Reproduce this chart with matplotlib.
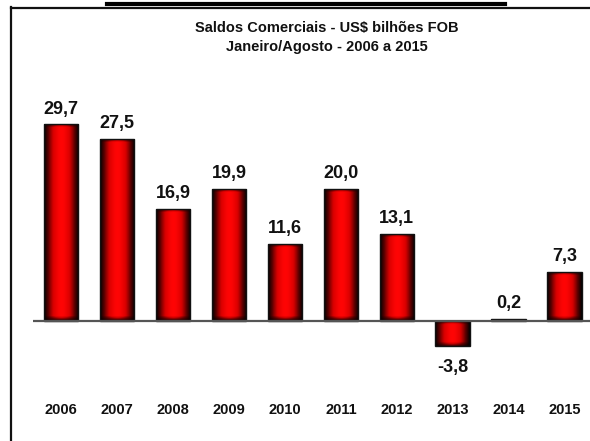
import numpy as np
import matplotlib
matplotlib.use('Agg')
import matplotlib.pyplot as plt
from matplotlib.colors import LinearSegmentedColormap
from matplotlib.lines import Line2D
from matplotlib.patches import Rectangle
from matplotlib.transforms import blended_transform_factory

years = ['2006', '2007', '2008', '2009', '2010',
         '2011', '2012', '2013', '2014', '2015']
saldos = [29.7, 27.5, 16.9, 19.9, 11.6, 20.0, 13.1, -3.8, 0.2, 7.3]
value_labels = ['29,7', '27,5', '16,9', '19,9', '11,6',
                '20,0', '13,1', '-3,8', '0,2', '7,3']
title_lines = ['Saldos Comerciais - US$ bilhões FOB',
               'Janeiro/Agosto - 2006 a 2015']

FONT = ['Liberation Sans Narrow', 'Liberation Sans', 'DejaVu Sans']
W, H = 590, 441

fig = plt.figure(figsize=(W / 100, H / 100), dpi=100)
fig.patch.set_facecolor('white')

# axes laid out in pixels: baseline at y=320, ~6.6 px per unit
y_lo, y_hi = -10.0, 35.0
px_per_unit = 6.6
ax_bottom = (H - 320.5) - (0 - y_lo) * px_per_unit
ax_height = (y_hi - y_lo) * px_per_unit
ax = fig.add_axes([33 / W, ax_bottom / H, (590 - 33) / W, ax_height / H])
ax.set_xlim(-0.5, 9.45)
ax.set_ylim(y_lo, y_hi)
ax.axis('off')

# red bars shaded to black towards the edges
cmap = LinearSegmentedColormap.from_list(
    'barshade', [(0.0, '#000000'), (0.35, '#5a0000'),
                 (0.7, '#d80000'), (1.0, '#ff0505')])
t = np.linspace(-1, 1, 80)
horiz = 1 - np.abs(t) ** 1.6

width = 0.62
edge_px = 4.0
x = np.arange(len(years))
for xi, v in zip(x, saldos):
    lo, hi = min(0, v), max(0, v)
    n_rows = max(2, int(abs(v) * px_per_unit))
    d = np.linspace(0, abs(v) * px_per_unit, n_rows)
    dist = np.minimum(d, d[-1] - d)
    vert = np.clip(0.35 + 0.65 * dist / edge_px, 0, 1)
    grad = np.minimum(vert[:, None], 1.0) * horiz[None, :]
    rect = Rectangle((xi - width / 2, lo), width, hi - lo,
                     facecolor='none', edgecolor='#111111', lw=1.0, zorder=3)
    ax.add_patch(rect)
    im = ax.imshow(grad, cmap=cmap, vmin=0, vmax=1, aspect='auto',
                   extent=(xi - width / 2, xi + width / 2, lo, hi),
                   interpolation='bilinear', zorder=2)
    im.set_clip_path(rect)

ax.set_xlim(-0.5, 9.45)
ax.set_ylim(y_lo, y_hi)
ax.axhline(0, color='#555555', lw=1.6, zorder=4)

for xi, v, lab in zip(x, saldos, value_labels):
    if v >= 0:
        ax.annotate(lab, (xi, v), xytext=(0, 5), textcoords='offset points',
                    ha='center', va='bottom', fontsize=13,
                    fontweight='bold', family=FONT, color='#111111')
    else:
        ax.annotate(lab, (xi, v), xytext=(0, -10), textcoords='offset points',
                    ha='center', va='top', fontsize=13,
                    fontweight='bold', family=FONT, color='#111111')

trans = blended_transform_factory(ax.transData, fig.transFigure)
for xi, yr in zip(x, years):
    ax.text(xi, 1 - 410 / H, yr, transform=trans, ha='center', va='center',
            fontsize=10.5, fontweight='bold', family=FONT, color='#111111')

fig.text(327 / W, 1 - 28 / H, title_lines[0], ha='center', va='center',
         fontsize=10.5, fontweight='bold', family=FONT, color='#111111')
fig.text(327 / W, 1 - 47 / H, title_lines[1], ha='center', va='center',
         fontsize=10.5, fontweight='bold', family=FONT, color='#111111')

# outer frame (left and top edges) and the heavy rule above it
fig.add_artist(Line2D([11 / W, 11 / W], [0, 1 - 7 / H],
                      color='#111111', lw=1.6))
fig.add_artist(Line2D([11 / W, 1], [1 - 7.5 / H, 1 - 7.5 / H],
                      color='#111111', lw=1.6))
fig.add_artist(Line2D([107 / W, 505 / W], [1 - 4 / H, 1 - 4 / H],
                      color='black', lw=3.0))

fig.savefig('out.png', dpi=100, facecolor='white')
